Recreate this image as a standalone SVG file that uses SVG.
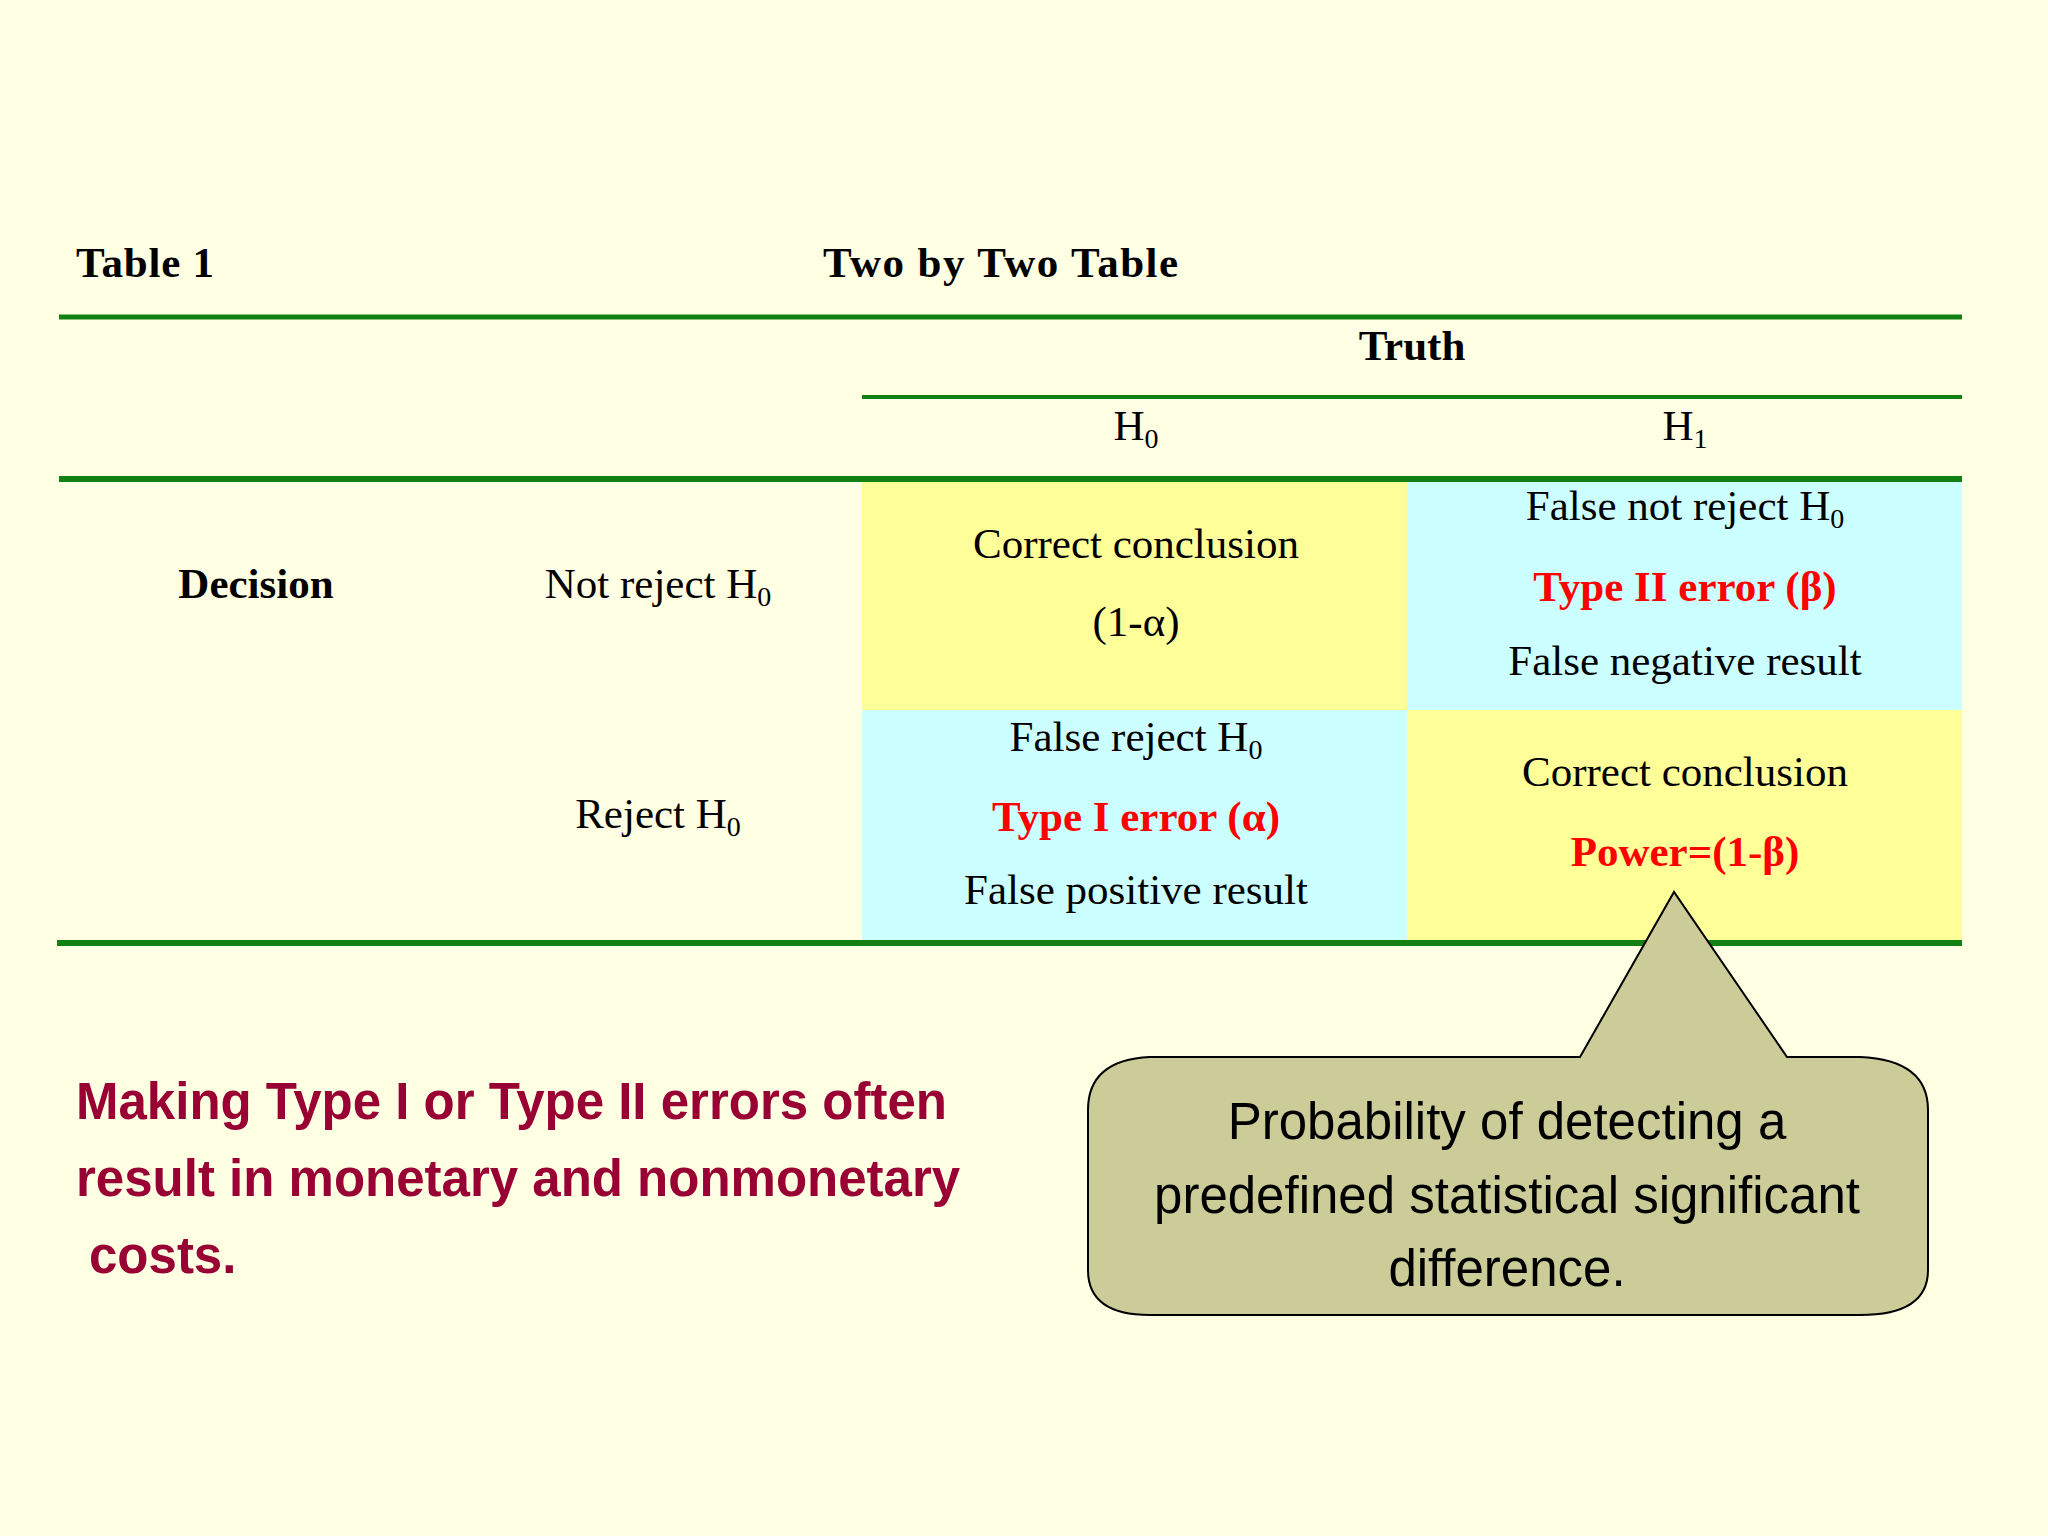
<svg xmlns="http://www.w3.org/2000/svg" width="2048" height="1536" viewBox="0 0 2048 1536">
<style>
.t{font-family:"Liberation Serif",serif;font-size:43px;fill:#000}
.b{font-weight:bold}
.r{fill:#ff0000;font-weight:bold}
.c{text-anchor:middle}
.s{font-size:28px}
.m{font-family:"Liberation Sans",sans-serif;font-weight:bold;font-size:51px;fill:#990033}
.o{font-family:"Liberation Sans",sans-serif;font-size:51px;fill:#000;text-anchor:middle}
.g{stroke:#138013;fill:none}
</style>
<rect width="2048" height="1536" fill="#ffffe3"/>
<g id="cells">
<rect x="862" y="482" width="545" height="228" fill="#ffff99"/>
<rect x="1407" y="482" width="555" height="228" fill="#ccffff"/>
<rect x="862" y="710" width="545" height="230" fill="#ccffff"/>
<rect x="1407" y="710" width="555" height="230" fill="#ffff99"/>
</g>
<g id="lines">
<line class="g" x1="59" y1="317" x2="1962" y2="317" stroke-width="5"/>
<line class="g" x1="862" y1="397" x2="1962" y2="397" stroke-width="4"/>
<line class="g" x1="59" y1="479" x2="1962" y2="479" stroke-width="6"/>
<line class="g" x1="57" y1="943" x2="1962" y2="943" stroke-width="6"/>
</g>
<g id="header">
<text class="t b" x="76" y="277" textLength="138">Table 1</text>
<text class="t b" x="823" y="277" textLength="355">Two by Two Table</text>
<text class="t b c" x="1412" y="360">Truth</text>
<text class="t c" x="1136" y="440">H<tspan class="s" dy="8">0</tspan></text>
<text class="t c" x="1685" y="440">H<tspan class="s" dy="8">1</tspan></text>
</g>
<g id="rowlabels">
<text class="t b c" x="256" y="598">Decision</text>
<text class="t c" x="658" y="598">Not reject H<tspan class="s" dy="8">0</tspan></text>
<text class="t c" x="658" y="828">Reject H<tspan class="s" dy="8">0</tspan></text>
</g>
<g id="celltext">
<text class="t c" x="1136" y="558">Correct conclusion</text>
<text class="t c" x="1136" y="636">(1-α)</text>
<text class="t c" x="1685" y="520">False not reject H<tspan class="s" dy="8">0</tspan></text>
<text class="t r c" x="1685" y="601">Type II error (β)</text>
<text class="t c" x="1685" y="675">False negative result</text>
<text class="t c" x="1136" y="751">False reject H<tspan class="s" dy="8">0</tspan></text>
<text class="t r c" x="1136" y="831">Type I error (α)</text>
<text class="t c" x="1136" y="904">False positive result</text>
<text class="t c" x="1685" y="786">Correct conclusion</text>
<text class="t r c" x="1685" y="866">Power=(1-β)</text>
</g>
<g id="note">
<text class="m" x="76" y="1119">Making Type I or Type II errors often</text>
<text class="m" x="76" y="1196">result in monetary and nonmonetary</text>
<text class="m" x="89" y="1273">costs.</text>
</g>
<g id="callout">
<path d="M1580,1057 L1674,892 L1787,1057 L1860,1057 Q1928,1060 1928,1110 L1928,1270 Q1928,1315 1860,1315 L1150,1315 Q1088,1315 1088,1270 L1088,1110 Q1088,1060 1150,1057 Z" fill="#cccc99" stroke="#000" stroke-width="2"/>
<text class="o" x="1507" y="1139">Probability of detecting a</text>
<text class="o" x="1507" y="1213">predefined statistical significant</text>
<text class="o" x="1507" y="1286">difference.</text>
</g>
</svg>
